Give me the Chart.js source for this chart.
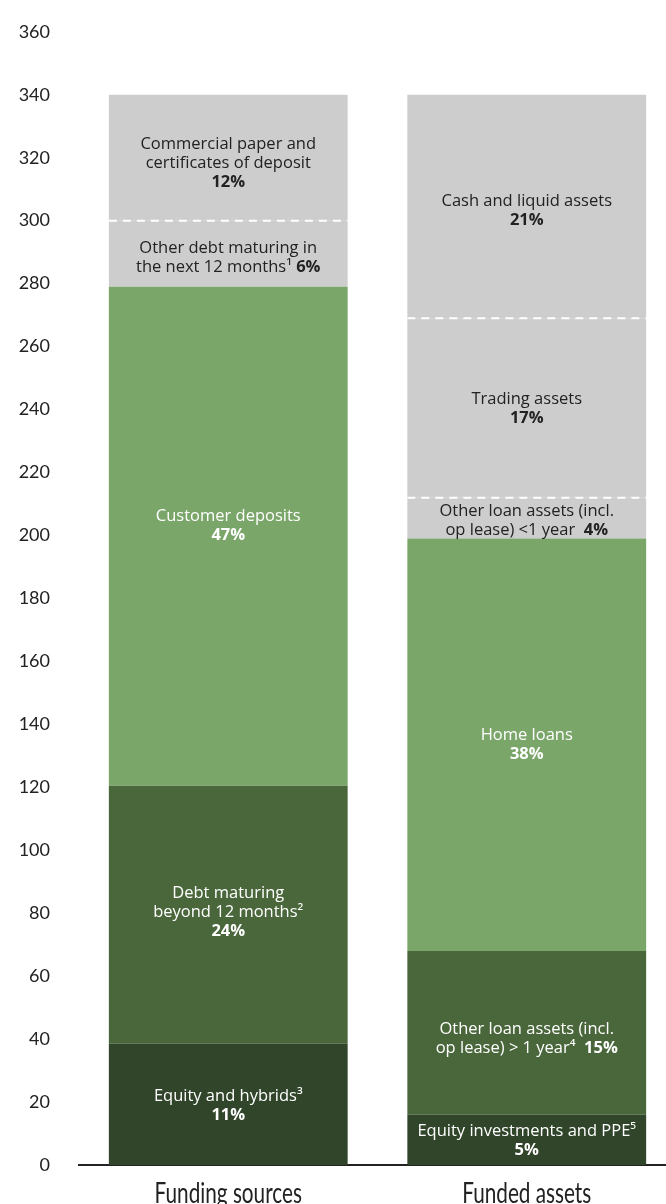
<!DOCTYPE html>
<html>
<head>
<meta charset="utf-8">
<script src="https://cdn.jsdelivr.net/npm/chart.js@4/dist/chart.umd.min.js"></script>
<style>
  html, body { margin: 0; padding: 0; background: #fff; overflow: hidden; }
  #wrap { width: 666px; height: 1204px; overflow: hidden; }
</style>
</head>
<body>
<div id="wrap"><canvas id="chart" width="676" height="1214"></canvas></div>
<script>
// data
const categories = ["Funding sources", "Funded assets"];

const fundingValues = [38.5, 82, 158.5, 21, 40];
const fundingNames = [
  ["Equity and hybrids³"],
  ["Debt maturing", "beyond 12 months²"],
  ["Customer deposits"],
  ["Other debt maturing in", "the next 12 months¹"],
  ["Commercial paper and", "certificates of deposit"]
];
const fundingShares = ["11%", "24%", "47%", "6%", "12%"];

const assetValues = [16, 52, 131, 13, 57, 71];
const assetNames = [
  ["Equity investments and PPE⁵"],
  ["Other loan assets (incl.", "op lease) > 1 year⁴ "],
  ["Home loans"],
  ["Other loan assets (incl.", "op lease) <1 year "],
  ["Trading assets"],
  ["Cash and liquid assets"]
];
const assetShares = ["5%", "15%", "38%", "4%", "17%", "21%"];

const yMax = 360;
const yStep = 20;

// styles
const DARK = "#31452a", MID = "#4a673c", LIGHT = "#7ba66a", GREY = "#cdcdcd";
const fundingColors = [DARK, MID, LIGHT, GREY, GREY];
const assetColors = [DARK, MID, LIGHT, GREY, GREY, GREY];
const fundingInline = [false, false, false, true, false];
const assetInline = [false, true, false, true, false, false];
const fundingShift = [1, -2, -10, 4, 6];
const assetShift = [1, 6, 0, 3, 1, 4];
const FONT = "'Open Sans', 'Noto Sans', sans-serif";

const nLevels = Math.max(fundingValues.length, assetValues.length);
const datasets = [];
for (let i = 0; i < nLevels; i++) {
  datasets.push({
    data: [fundingValues[i] ?? null, assetValues[i] ?? null],
    backgroundColor: [fundingColors[i] || GREY, assetColors[i] || GREY],
    borderWidth: 0,
    barPercentage: 0.8,
    categoryPercentage: 1
  });
}

function segInfo(bar, i) {
  if (bar === 0) return { names: fundingNames[i], share: fundingShares[i], inline: fundingInline[i], color: fundingColors[i], shift: fundingShift[i], next: fundingColors[i + 1] };
  return { names: assetNames[i], share: assetShares[i], inline: assetInline[i], color: assetColors[i], shift: assetShift[i], next: assetColors[i + 1] };
}

const segmentLabels = {
  id: "segmentLabels",
  afterDatasetsDraw(chart) {
    const { ctx } = chart;
    const lh = 19;
    const normal = "16.5px " + FONT;
    const bold = "bold 16.5px " + FONT;
    chart.data.datasets.forEach((ds, i) => {
      chart.getDatasetMeta(i).data.forEach((el, j) => {
        if (ds.data[j] == null) return;
        const s = segInfo(j, i);
        if (!s.names) return;
        const left = el.x - el.width / 2, right = el.x + el.width / 2;

        // dashed divider between grey blocks
        if (s.color === GREY && s.next === GREY) {
          ctx.save();
          ctx.strokeStyle = "#ffffff";
          ctx.lineWidth = 2;
          ctx.setLineDash([8, 6]);
          ctx.beginPath();
          ctx.moveTo(left, el.y);
          ctx.lineTo(right, el.y);
          ctx.stroke();
          ctx.restore();
        }

        const lines = s.names.length + (s.inline ? 0 : 1);
        const cy = (el.y + el.base) / 2 + s.shift;
        let y = cy - (lines - 1) * lh / 2;
        ctx.save();
        ctx.fillStyle = s.color === GREY ? "#222222" : "#ffffff";
        ctx.textBaseline = "middle";
        s.names.forEach((line, k) => {
          const last = k === s.names.length - 1;
          if (last && s.inline) {
            ctx.font = normal;
            const w1 = ctx.measureText(line + " ").width;
            ctx.font = bold;
            const w2 = ctx.measureText(s.share).width;
            const x0 = el.x - (w1 + w2) / 2;
            ctx.textAlign = "left";
            ctx.font = normal;
            ctx.fillText(line + " ", x0, y);
            ctx.font = bold;
            ctx.fillText(s.share, x0 + w1, y);
          } else {
            ctx.textAlign = "center";
            ctx.font = normal;
            ctx.fillText(line, el.x, y);
          }
          y += lh;
        });
        if (!s.inline) {
          ctx.textAlign = "center";
          ctx.font = bold;
          ctx.fillText(s.share, el.x, y);
        }
        ctx.restore();
      });
    });
  }
};

// category names, narrow like the original's condensed face
const categoryLabels = {
  id: "categoryLabels",
  afterDraw(chart) {
    const { ctx } = chart;
    const xs = chart.scales.x;
    ctx.save();
    ctx.fillStyle = "#222";
    ctx.font = "28px Lato, 'Open Sans', sans-serif";
    ctx.textAlign = "center";
    ctx.textBaseline = "alphabetic";
    categories.forEach((c, i) => {
      const x = xs.getPixelForValue(i);
      ctx.save();
      ctx.translate(x, xs.top + 38);
      ctx.scale(0.74, 1);
      ctx.fillText(c, 0, 0);
      ctx.restore();
    });
    ctx.restore();
  }
};

new Chart(document.getElementById("chart"), {
  type: "bar",
  data: { labels: categories, datasets },
  options: {
    responsive: false,
    animation: false,
    devicePixelRatio: 1,
    layout: { padding: { top: 15, left: 0, right: 0, bottom: 0 } },
    plugins: { legend: { display: false }, tooltip: { enabled: false } },
    scales: {
      x: {
        stacked: true,
        grid: { display: false },
        border: { display: true, color: "#222", width: 2 },
        ticks: { display: false },
        afterFit(s) { s.height = 49; }
      },
      y: {
        stacked: true,
        min: 0,
        max: yMax,
        grid: { display: false },
        border: { display: false },
        ticks: { stepSize: yStep, color: "#222", padding: 21, font: { family: "Lato, 'Open Sans', sans-serif", size: 18 } },
        afterFit(s) { s.width = 79; }
      }
    }
  },
  plugins: [segmentLabels, categoryLabels]
});
</script>
</body>
</html>
